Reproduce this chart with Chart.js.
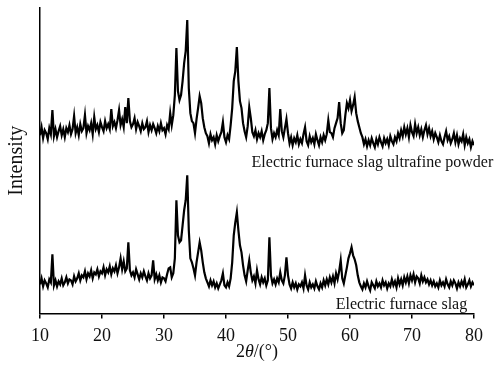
<!DOCTYPE html>
<html>
<head>
<meta charset="utf-8">
<script src="https://cdn.jsdelivr.net/npm/chart.js@4"></script>
<style>
  html, body { margin: 0; padding: 0; background: #fff; }
  #wrap { width: 495px; height: 366px; }
</style>
</head>
<body>
<div id="wrap"><canvas id="xrd" width="495" height="366"></canvas></div>
<script>
// 2-theta grid, 10..80 deg in 0.25 deg steps
const angleStart = 10;
const angleStep = 0.25;
const angleCount = 281;

const xTicks = [10, 20, 30, 40, 50, 60, 70, 80];

// ultrafine powder (upper trace), arbitrary intensity units
const powderIntensity = [
  178, 186, 175, 183,  180, 174, 185, 179,  203, 177, 184, 176,  182, 187, 178, 184,
  176, 185, 181, 188,  179, 184, 197, 180,  186, 178, 189, 182,  185, 198, 180, 187,
  183, 190, 179, 196,  184, 188, 181, 191,  186, 182, 192, 185,  189, 184, 204, 187,
  191, 185, 193, 203,  188, 194, 186, 206,  190, 215, 192, 186,  189, 195, 184, 191,
  187, 182, 190, 184,  186, 192, 181, 188,  183, 189, 185, 180,  187, 182, 190, 183,
  185, 179, 188, 184,  200, 188, 198, 218,  265, 222, 213, 218,  232, 250, 262, 293,
  225, 200, 192, 190,  180, 194, 205, 217,  210, 195, 186, 180,  177, 170, 179, 173,
  176, 169, 178, 172,  177, 181, 191, 176,  171, 178, 174, 188,  205, 232, 242, 266,
  232, 212, 205, 190,  182, 176, 187, 206,  195, 181, 177, 183,  174, 180, 176, 182,
  173, 179, 183, 190,  225, 185, 174, 180,  176, 183, 178, 204,  182, 176, 185, 194,
  180, 170, 176, 168,  175, 171, 178, 169,  174, 170, 179, 186,  172, 168, 177, 171,
  175, 169, 179, 173,  168, 176, 171, 178,  173, 179, 193, 181,  180, 176, 185, 190,
  195, 211, 190, 180,  183, 198, 210, 205,  213, 202, 208, 216,  200, 192, 186, 180,
  176, 169, 174, 167,  173, 168, 175, 170,  166, 174, 169, 176,  171, 167, 175, 170,
  174, 168, 177, 172,  169, 176, 172, 180,  175, 183, 177, 186,  179, 185, 176, 188,
  181, 177, 189, 180,  186, 178, 184, 176,  183, 188, 179, 185,  177, 182, 174, 180,
  176, 171, 178, 172,  169, 176, 182, 173,  177, 170, 174, 180,  171, 178, 169, 175,
  172, 179, 168, 176,  170, 174, 166, 172,  168
];

// raw slag (lower trace)
const slagIntensity = [
  29, 35, 27, 33,  30, 26, 34, 31,  59, 28, 33, 27,  32, 29, 35, 28,
  31, 36, 30, 34,  33, 29, 37, 32,  35, 40, 33, 38,  36, 42, 34, 40,
  37, 43, 35, 41,  39, 44, 37, 42,  40, 46, 38, 44,  41, 47, 39, 45,
  42, 48, 40, 46,  55, 44, 52, 42,  45, 71, 43, 38,  41, 36, 44, 39,
  34, 40, 36, 42,  37, 33, 40, 35,  38, 53, 34, 39,  33, 38, 31, 36,
  35, 32, 39, 45,  46, 36, 40, 55,  113, 78, 71, 73,  88, 103, 113, 138,
  83, 55, 51, 45,  38, 51, 61, 71,  63, 51, 41, 35,  31, 27, 33, 28,
  32, 26, 30, 25,  29, 33, 40, 28,  26, 31, 27, 35,  51, 78, 91, 101,
  83, 68, 61, 48,  38, 32, 43, 53,  41, 33, 37, 30,  43, 34, 29, 36,
  31, 35, 28, 33,  76, 38, 30, 34,  29, 35, 31, 41,  33, 30, 38, 56,
  38, 29, 25, 31,  26, 30, 24, 29,  27, 31, 25, 38,  28, 24, 31, 26,
  29, 25, 32, 27,  24, 30, 26, 33,  28, 34, 29, 36,  31, 37, 30, 40,
  34, 42, 53, 35,  30, 38, 46, 55,  60, 66, 58, 54,  48, 38, 31, 27,
  24, 30, 26, 32,  27, 23, 31, 28,  25, 32, 27, 30,  26, 33, 28, 31,
  25, 30, 27, 34,  28, 32, 26, 35,  29, 34, 28, 36,  31, 37, 30, 38,
  33, 39, 31, 37,  35, 30, 38, 32,  36, 31, 34, 29,  33, 28, 32, 27,
  30, 26, 33, 28,  31, 27, 34, 29,  26, 32, 28, 33,  30, 25, 31, 27,
  32, 28, 34, 26,  29, 33, 27, 31,  28
];

// curve captions, placed in data units (right edge, baseline)
const captionTexts = ['Electric furnace slag ultrafine powder', 'Electric furnace slag'];
const captionX = [83.1, 78.9];
const captionY = [146, 4];

const serif = '"Liberation Serif", "Times New Roman", serif';

const angles = Array.from({length: angleCount}, (_, i) => angleStart + i * angleStep);
const toPoints = vals => vals.map((v, i) => ({x: angles[i], y: v}));

const captionPlugin = {
    id: 'captions',
    afterDraw(chart) {
        const ctx = chart.ctx;
        const xs = chart.scales.x, ys = chart.scales.y;
        ctx.save();
        ctx.fillStyle = '#111';
        ctx.font = '16px ' + serif;
        ctx.textAlign = 'right';
        ctx.textBaseline = 'alphabetic';
        captionTexts.forEach((t, i) => {
            ctx.fillText(t, xs.getPixelForValue(captionX[i]), ys.getPixelForValue(captionY[i]));
        });

        // x axis title: 2θ/(°) with italic theta
        const parts = [['2', ''], ['\u03B8', 'italic '], ['/(\u00B0)', '']];
        ctx.textAlign = 'left';
        let total = 0;
        parts.forEach(p => { ctx.font = p[1] + '18px ' + serif; total += ctx.measureText(p[0]).width; });
        let x = (chart.chartArea.left + chart.chartArea.right) / 2 - total / 2;
        const y = chart.chartArea.bottom + 44;
        parts.forEach(p => {
            ctx.font = p[1] + '18px ' + serif;
            ctx.fillText(p[0], x, y);
            x += ctx.measureText(p[0]).width;
        });
        ctx.restore();
    }
};

const ctx = document.getElementById('xrd').getContext('2d');
new Chart(ctx, {
    type: 'line',
    data: {
        datasets: [
            {
                label: captionTexts[0],
                data: toPoints(powderIntensity),
                borderColor: '#000',
                borderWidth: 2.2,
                pointRadius: 0,
                tension: 0
            },
            {
                label: captionTexts[1],
                data: toPoints(slagIntensity),
                borderColor: '#000',
                borderWidth: 2.2,
                pointRadius: 0,
                tension: 0
            }
        ]
    },
    options: {
        responsive: false,
        animation: false,
        layout: { padding: { top: 8, right: 21, bottom: 12, left: 0 } },
        plugins: {
            legend: { display: false },
            tooltip: { enabled: false }
        },
        scales: {
            x: {
                type: 'linear',
                min: 10,
                max: 80,
                afterBuildTicks: axis => { axis.ticks = xTicks.map(v => ({value: v})); },
                ticks: {
                    color: '#111',
                    font: { family: serif, size: 18 },
                    padding: 7,
                    maxRotation: 0
                },
                grid: {
                    display: true,
                    drawOnChartArea: false,
                    drawTicks: true,
                    tickLength: 5,
                    color: '#000',
                    lineWidth: 1.5
                },
                border: { display: true, color: '#000', width: 1.5 }
            },
            y: {
                min: 0,
                max: 305,
                ticks: { display: false },
                grid: { display: false, drawTicks: false },
                border: { display: true, color: '#000', width: 1.5 },
                title: {
                    display: true,
                    text: 'Intensity',
                    color: '#111',
                    font: { family: serif, size: 20 },
                    padding: { top: 5, bottom: 11 }
                }
            }
        }
    },
    plugins: [captionPlugin]
});
</script>
</body>
</html>
